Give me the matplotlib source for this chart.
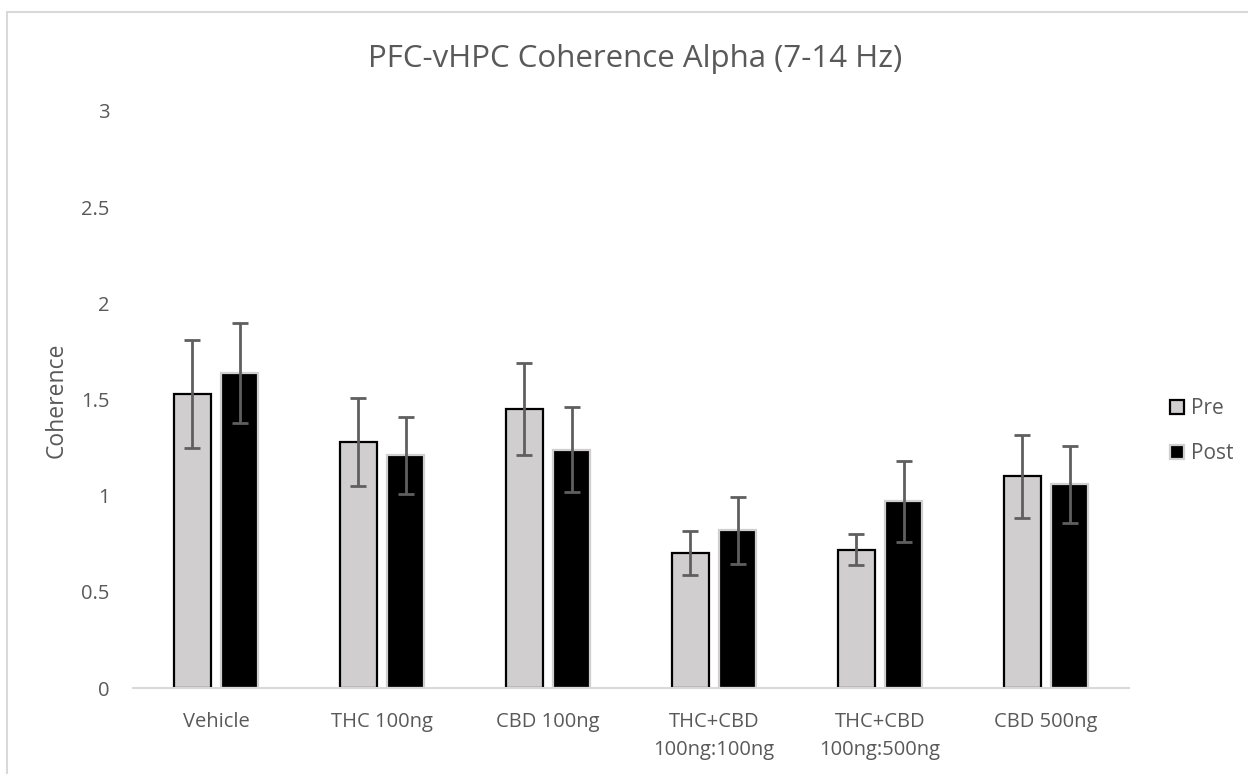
import matplotlib.pyplot as plt
import numpy as np
from matplotlib.patches import Rectangle

# values
groups = ["Vehicle", "THC 100ng", "CBD 100ng", "THC+CBD\n100ng:100ng", "THC+CBD\n100ng:500ng", "CBD 500ng"]
pre = [1.53, 1.28, 1.45, 0.70, 0.72, 1.10]
pre_err = [0.28, 0.23, 0.24, 0.115, 0.08, 0.215]
post = [1.64, 1.21, 1.24, 0.82, 0.97, 1.06]
post_err = [0.26, 0.20, 0.22, 0.175, 0.21, 0.20]

plt.rcParams["font.family"] = ["Open Sans", "DejaVu Sans"]
text_color = "#595959"

fig = plt.figure(figsize=(12.48, 7.74), dpi=100)
ax = fig.add_axes([133 / 1248, 86 / 774, 996 / 1248, 577 / 774])

x = np.arange(len(groups))
w = 0.222
off = 0.142
err_kw = dict(ecolor="#5f5f5f", elinewidth=2, capsize=5.5, capthick=2)
ax.bar(x - off, pre, w, color="#d0cece", edgecolor="black", linewidth=1.6,
       yerr=pre_err, error_kw=err_kw, label="Pre", zorder=2)
ax.bar(x + off, post, w, color="black", edgecolor="#d0cece", linewidth=1.6,
       yerr=post_err, error_kw=err_kw, label="Post", zorder=2)

ax.set_xlim(-0.5, len(groups) - 0.5)
ax.set_ylim(0, 3)
ax.set_yticks([0, 0.5, 1, 1.5, 2, 2.5, 3])
ax.set_yticklabels(["0", "0.5", "1", "1.5", "2", "2.5", "3"])
ax.set_xticks(x)
ax.set_xticklabels(groups, linespacing=1.55)
ax.tick_params(axis="both", length=0, colors=text_color)
ax.tick_params(axis="x", labelsize=14.5, pad=17)
ax.tick_params(axis="y", labelsize=14.5, pad=17)
for side in ["top", "right", "left"]:
    ax.spines[side].set_visible(False)
ax.spines["bottom"].set_color("#d9d9d9")
ax.spines["bottom"].set_linewidth(1.5)

fig.text(57 / 1248, 1 - 400 / 774, "Coherence", rotation=90, fontsize=16.5,
         color=text_color, ha="center", va="center")
fig.text(0.509, 1 - 67 / 774, "PFC-vHPC Coherence Alpha (7-14 Hz)", fontsize=22.5,
         color=text_color, ha="center", va="baseline")

leg = ax.legend(loc="center left", bbox_to_anchor=(1.022, 0.445), frameon=False,
                fontsize=15, labelcolor=text_color, handlelength=0.68,
                handleheight=0.68, handletextpad=0.35, labelspacing=1.14)

# light outer chart border (cropped at right/bottom)
fig.patches.append(Rectangle((7 / 1248, -0.1), 1.2, 1.1 - 12 / 774,
                             transform=fig.transFigure, fill=False,
                             edgecolor="#d9d9d9", linewidth=1.5))

fig.savefig("out.png", dpi=100)
